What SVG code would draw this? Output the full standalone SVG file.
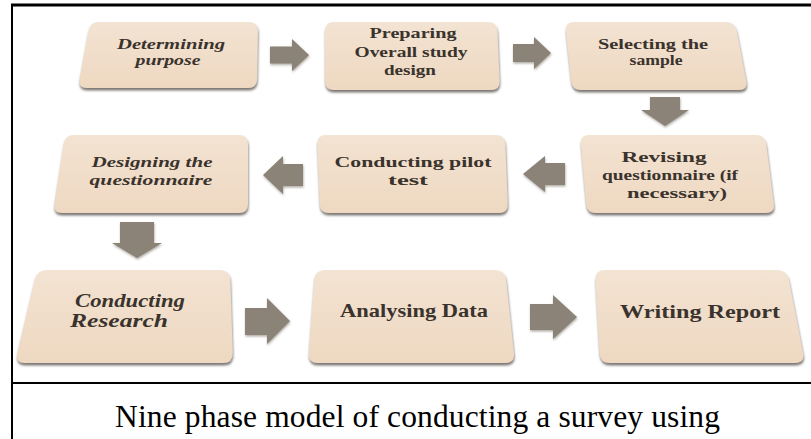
<svg xmlns="http://www.w3.org/2000/svg" width="811" height="439" viewBox="0 0 811 439">
<style>
.node{fill:url(#ng);filter:url(#sh)}
.arr{fill:#8b8377;filter:url(#ash)}
.t{font-family:"Liberation Serif","DejaVu Serif",serif;font-weight:bold;fill:#3a332d;text-anchor:middle;font-size:15px}
.ti{font-style:italic}
.big{font-size:19px}
.frame{stroke:#000;fill:none}
.cap{font-family:"Liberation Serif","Times New Roman",serif;font-size:31.5px;fill:#000}
</style>
<defs>
<linearGradient id="ng" x1="0" y1="0" x2="0" y2="1">
<stop offset="0" stop-color="#f3e3d2"/>
<stop offset="1" stop-color="#eed8c1"/>
</linearGradient>
<filter id="sh" x="-5%" y="-5%" width="110%" height="120%">
<feDropShadow dx="0.5" dy="2.5" stdDeviation="1.2" flood-color="#6e6a66" flood-opacity="0.9"/>
</filter>
<filter id="ash" x="-10%" y="-10%" width="130%" height="130%">
<feDropShadow dx="0.5" dy="1.5" stdDeviation="1" flood-color="#9a948c" flood-opacity="0.8"/>
</filter>
</defs>
<rect width="811" height="439" fill="#fff"/>
<g id="frame">
<line class="frame" x1="11" y1="5" x2="811" y2="5" stroke-width="3"/>
<line class="frame" x1="12" y1="4" x2="12" y2="439" stroke-width="2"/>
<line class="frame" x1="12" y1="383" x2="811" y2="383" stroke-width="2"/>
</g>
<g id="connectors">
<path class="arr" d="M270 46.5 L292 46.5 L292 39 L309 55 L292 71 L292 63.5 L270 63.5 Z"/>
<path class="arr" d="M513 44 L534 44 L534 37 L551 53 L534 69 L534 62 L513 62 Z"/>
<path class="arr" d="M650 97 L680 97 L680 110 L689 110 L665 126 L641 110 L650 110 Z"/>
<path class="arr" d="M565 163 L545 163 L545 156 L523 174 L545 192 L545 185 L565 185 Z"/>
<path class="arr" d="M303 164 L283 164 L283 156 L263 175 L283 194 L283 186 L303 186 Z"/>
<path class="arr" d="M120 222 L154 222 L154 243 L162 243 L137 258 L112 243 L120 243 Z"/>
<path class="arr" d="M245 308 L267 308 L267 298 L290 321 L267 344 L267 335 L245 335 Z"/>
<path class="arr" d="M530 304 L553 304 L553 295 L577 317 L553 339 L553 330 L530 330 Z"/>
</g>
<g id="n1">
<path class="node" d="M99 22 L249 22 Q258 22 257.9 31 L257.1 79 Q257 88 248 88 L87 88 Q78 88 79.6 79 L88.4 31 Q90 22 99 22 Z"/>
<text class="t ti" x="171" y="49" textLength="108" lengthAdjust="spacingAndGlyphs">Determining</text>
<text class="t ti" x="168" y="65" textLength="65" lengthAdjust="spacingAndGlyphs">purpose</text>
</g>
<g id="n2">
<path class="node" d="M334 22 L488 22 Q497 22 497.4 31 L499.6 81 Q500 90 491 90 L334 90 Q325 90 325 81 L325 31 Q325 22 334 22 Z"/>
<text class="t" x="413" y="38" textLength="87" lengthAdjust="spacingAndGlyphs">Preparing</text>
<text class="t" x="411" y="57" textLength="113" lengthAdjust="spacingAndGlyphs">Overall study</text>
<text class="t" x="410" y="75" textLength="52" lengthAdjust="spacingAndGlyphs">design</text>
</g>
<g id="n3">
<path class="node" d="M574 22 L726 22 Q735 22 736.7 31 L746.3 81 Q748 90 739 90 L581 90 Q572 90 571.1 81 L565.9 31 Q565 22 574 22 Z"/>
<text class="t" x="653" y="49" textLength="110" lengthAdjust="spacingAndGlyphs">Selecting the</text>
<text class="t" x="656" y="65" textLength="53" lengthAdjust="spacingAndGlyphs">sample</text>
</g>
<g id="n4">
<path class="node" d="M589 135 L756 135 Q765 135 766.2 144 L773.8 204 Q775 213 766 213 L596 213 Q587 213 586.2 204 L580.8 144 Q580 135 589 135 Z"/>
<text class="t" x="664" y="162" textLength="85" lengthAdjust="spacingAndGlyphs">Revising</text>
<text class="t" x="670" y="180" textLength="136" lengthAdjust="spacingAndGlyphs">questionnaire (if</text>
<text class="t" x="677" y="198" textLength="100" lengthAdjust="spacingAndGlyphs">necessary)</text>
</g>
<g id="n5">
<path class="node" d="M326 135 L496 135 Q505 135 505.3 144 L507.7 204 Q508 213 499 213 L329 213 Q320 213 319.7 204 L317.3 144 Q317 135 326 135 Z"/>
<text class="t" x="413" y="167" textLength="157" lengthAdjust="spacingAndGlyphs">Conducting pilot</text>
<text class="t" x="408" y="185" textLength="40" lengthAdjust="spacingAndGlyphs">test</text>
</g>
<g id="n6">
<path class="node" d="M74 135 L239 135 Q248 135 248 144 L248 204 Q248 213 239 213 L62 213 Q53 213 54.4 204 L63.6 144 Q65 135 74 135 Z"/>
<text class="t ti" x="152" y="167" textLength="121" lengthAdjust="spacingAndGlyphs">Designing the</text>
<text class="t ti" x="151" y="185" textLength="123" lengthAdjust="spacingAndGlyphs">questionnaire</text>
</g>
<g id="n7">
<path class="node" d="M47 270 L220 270 Q230 270 230.3 280 L232.7 353 Q233 363 223 363 L25 363 Q15 363 17.4 353 L34.6 280 Q37 270 47 270 Z"/>
<text class="t ti big" x="130" y="307" textLength="110" lengthAdjust="spacingAndGlyphs">Conducting</text>
<text class="t ti big" x="119" y="327" textLength="98" lengthAdjust="spacingAndGlyphs">Research</text>
</g>
<g id="n8">
<path class="node" d="M325 270 L495 270 Q505 270 506.1 280 L513.9 353 Q515 363 505 363 L318 363 Q308 363 308.8 353 L314.2 280 Q315 270 325 270 Z"/>
<text class="t big" x="414" y="317" textLength="148" lengthAdjust="spacingAndGlyphs">Analysing Data</text>
</g>
<g id="n9">
<path class="node" d="M605 270 L777 270 Q787 270 788.9 280 L803.1 353 Q805 363 795 363 L610 363 Q600 363 599.5 353 L595.5 280 Q595 270 605 270 Z"/>
<text class="t big" x="700" y="318" textLength="160" lengthAdjust="spacingAndGlyphs">Writing Report</text>
</g>
<text class="cap" x="115" y="427" textLength="605" lengthAdjust="spacing">Nine phase model of conducting a survey using</text>
</svg>
